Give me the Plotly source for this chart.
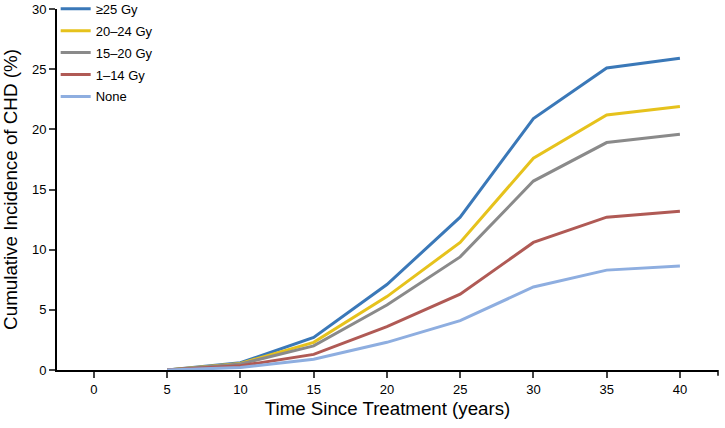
import plotly.graph_objects as go

years = [5, 10, 15, 20, 25, 30, 35, 40]
series_names = ["≥25 Gy", "20–24 Gy", "15–20 Gy", "1–14 Gy", "None"]
ge25 = [0, 0.6, 2.7, 7.1, 12.7, 20.9, 25.1, 25.9]
g20_24 = [0, 0.55, 2.3, 6.1, 10.6, 17.6, 21.2, 21.9]
g15_20 = [0, 0.5, 2.0, 5.4, 9.4, 15.7, 18.9, 19.6]
g1_14 = [0, 0.35, 1.3, 3.6, 6.3, 10.6, 12.7, 13.2]
none = [0, 0.2, 0.9, 2.3, 4.1, 6.9, 8.3, 8.65]
colors = ["#3a78b8", "#e6c21c", "#8a8a8a", "#b05a55", "#8eaee0"]
x_ticks = [0, 5, 10, 15, 20, 25, 30, 35, 40]
y_ticks = [0, 5, 10, 15, 20, 25, 30]

font_fam = "Liberation Sans, Arial, sans-serif"

fig = go.Figure()
for i, (name, vals, c) in enumerate(zip(series_names, [ge25, g20_24, g15_20, g1_14, none], colors)):
    fig.add_trace(go.Scatter(x=years, y=vals, mode="lines", name=name, legendgroup=f"g{i}",
                             line=dict(color=c, width=3)))

fig.update_layout(
    width=725, height=428,
    margin=dict(l=57, r=7, t=9, b=58, autoexpand=False),
    plot_bgcolor="white", paper_bgcolor="white",
    font=dict(family=font_fam, color="black", size=13),
    showlegend=True,
    legend=dict(x=-0.002, y=1.042, xanchor="left", yanchor="top",
                bgcolor="rgba(0,0,0,0)", font=dict(size=13, family=font_fam),
                tracegroupgap=2, itemwidth=30),
    xaxis=dict(range=[-2.52, 42.6], tickvals=x_ticks, ticks="outside", ticklen=6,
               tickwidth=1.5, showline=True, linecolor="black", linewidth=2,
               showgrid=False, zeroline=False, automargin=False,
               title=dict(text="Time Since Treatment (years)", font=dict(size=18.7), standoff=6)),
    yaxis=dict(range=[0, 30], tickvals=y_ticks, ticks="outside", ticklen=6,
               tickwidth=1.5, showline=True, linecolor="black", linewidth=2,
               showgrid=False, zeroline=False, automargin=False,
               title=dict(text="Cumulative Incidence of CHD (%)", font=dict(size=18.8), standoff=15)),
)
fig.add_shape(type="line", xref="paper", yref="paper", x0=1, x1=1, y0=0, y1=-0.016,
              line=dict(color="black", width=1.5))
fig.write_html("out.html", config={"displayModeBar": False},
               post_script="document.body.style.margin='0';")
